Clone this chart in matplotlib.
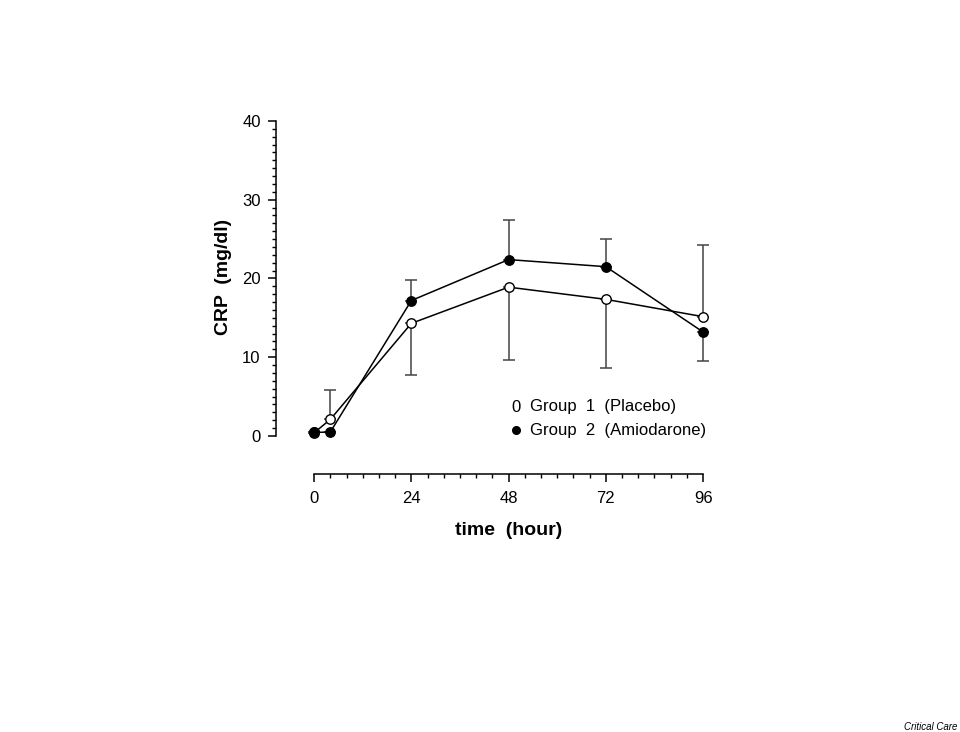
import numpy as np
import matplotlib.pyplot as plt
from matplotlib.lines import Line2D
from matplotlib.ticker import FixedLocator

# time points (hours)
hours = [0, 4, 24, 48, 72, 96]

# Group 1 (Placebo) - open circles
placebo = [0.4, 2.1, 14.3, 18.9, 17.35, 15.15]
placebo_lo = [0, 0, 6.6, 9.25, 8.7, 0]
placebo_hi = [0, 3.7, 0, 0, 0, 9.15]

# Group 2 (Amiodarone) - filled circles
amio = [0.45, 0.5, 17.2, 22.4, 21.5, 13.2]
amio_lo = [0, 0, 0, 0, 0, 3.7]
amio_hi = [0, 0, 2.65, 5.0, 3.5, 0]

x_ticks = [0, 24, 48, 72, 96]
y_ticks = [0, 10, 20, 30, 40]

plt.rcParams['font.family'] = ['Liberation Sans', 'DejaVu Sans']

W, H = 960, 732
fig = plt.figure(figsize=(W / 100, H / 100), dpi=100)
ax = fig.add_axes([276 / W, 1 - 474 / H, 434 / W, (474 - 121) / H])

ax.errorbar(hours, placebo, yerr=[placebo_lo, placebo_hi], fmt='none',
            ecolor='#444444', elinewidth=1.1, capsize=4.5, capthick=1.1, zorder=1)
ax.errorbar(hours, amio, yerr=[amio_lo, amio_hi], fmt='none',
            ecolor='#444444', elinewidth=1.1, capsize=4.5, capthick=1.1, zorder=1)

ax.plot(hours, amio, color='black', lw=1.1, marker='o', markersize=6.8,
        markerfacecolor='black', markeredgecolor='black', zorder=2)
ax.plot(hours, placebo, color='black', lw=1.1, marker='o', markersize=6.8,
        markerfacecolor='white', markeredgecolor='black', zorder=3)
# filled marker at t=0 sits on top of the open one
ax.plot(hours[:1], amio[:1], linestyle='none', marker='o', markersize=6.8,
        markerfacecolor='black', markeredgecolor='black', zorder=4)

ax.set_xlim(-9.4, 97.7)
ax.set_ylim(-4.83, 40)

for side in ['top', 'right']:
    ax.spines[side].set_visible(False)
ax.spines['left'].set_bounds(0, 40)
ax.spines['bottom'].set_bounds(0, 96)
ax.spines['left'].set_linewidth(1.1)
ax.spines['bottom'].set_linewidth(1.1)

ax.set_xticks(x_ticks)
ax.set_yticks(y_ticks)
ax.xaxis.set_minor_locator(FixedLocator(np.arange(0, 97, 4)))
ax.yaxis.set_minor_locator(FixedLocator(np.arange(0, 41, 1)))
ax.tick_params(axis='both', which='major', direction='out', length=6, width=1.1,
               labelsize=12)
ax.tick_params(axis='y', which='major', pad=5)
ax.tick_params(axis='x', which='major', pad=6)
ax.tick_params(axis='both', which='minor', direction='out', length=3, width=1)

ax.set_xlabel('time  (hour)', fontsize=14, fontweight='bold')
ax.set_ylabel('CRP  (mg/dl)', fontsize=14, fontweight='bold')
ax.xaxis.set_label_coords((509 - 276) / 434, -(522 - 474) / 353)
ax.yaxis.set_label_coords(-(276 - 232) / 434, (474 - 277) / 353)

# legend drawn as text, as in the original
fig.text(511 / W, 1 - 407 / H, '0', fontsize=12, va='center', ha='left')
fig.add_artist(Line2D([516 / W], [1 - 430 / H], transform=fig.transFigure,
                      marker='o', markersize=5.5, color='black', linestyle='none'))
fig.text(530 / W, 1 - 407 / H, 'Group  1  (Placebo)', fontsize=12, va='center', ha='left')
fig.text(530 / W, 1 - 430 / H, 'Group  2  (Amiodarone)', fontsize=12, va='center', ha='left')

fig.text(957 / W, 1 - 727 / H, 'Critical Care', fontsize=7, style='italic',
         ha='right', va='center')

fig.savefig('out.png', dpi=100)
